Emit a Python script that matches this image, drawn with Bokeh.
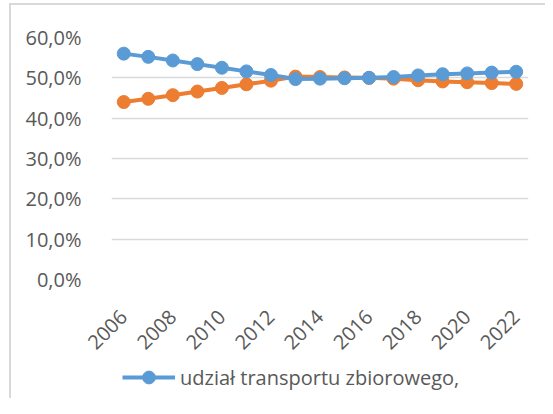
import math
from bokeh.plotting import figure
from bokeh.layouts import column
from bokeh.models import FixedTicker, CustomJSTickFormatter, Legend, LegendItem, Range1d
from bokeh.embed import file_html
from bokeh.resources import INLINE

years = list(range(2006, 2023))
zbiorowy = [56.0, 55.2, 54.3, 53.4, 52.5, 51.6, 50.7, 49.7, 49.8, 49.9, 50.0, 50.2, 50.6, 50.9, 51.1, 51.3, 51.5]
indywidualny = [44.0, 44.8, 45.7, 46.6, 47.5, 48.4, 49.3, 50.3, 50.2, 50.1, 50.0, 49.8, 49.4, 49.1, 48.9, 48.7, 48.5]
y_ticks = [0, 10, 20, 30, 40, 50, 60]
x_ticks = [2006, 2008, 2010, 2012, 2014, 2016, 2018, 2020, 2022]
legend_text = "udział transportu zbiorowego,"

BLUE = "#5B9BD5"
ORANGE = "#ED7D31"
GRID = "#D9D9D9"
TEXT = "#595959"
FONT = "Open Sans"
FS = "20px"

W = 534
p = figure(width=W, height=353, output_backend="svg", toolbar_location=None,
           x_range=Range1d(2005.5, 2022.5), y_range=Range1d(0, 60),
           min_border_left=100, min_border_right=17, min_border_top=32, min_border_bottom=77)
p.outline_line_color = None
p.background_fill_color = "white"
p.border_fill_color = "white"

p.xgrid.visible = False
p.ygrid.grid_line_color = GRID
p.ygrid.grid_line_width = 1.5
p.yaxis.ticker = FixedTicker(ticks=y_ticks)
p.xaxis.ticker = FixedTicker(ticks=x_ticks)
p.yaxis.formatter = CustomJSTickFormatter(code="return tick.toFixed(1).replace('.', ',') + '%';")
for ax in (p.xaxis, p.yaxis):
    ax.axis_line_color = None
    ax.major_tick_line_color = None
    ax.minor_tick_line_color = None
    ax.major_label_text_color = TEXT
    ax.major_label_text_font = FONT
    ax.major_label_text_font_size = FS
p.yaxis.major_label_standoff = 24
p.xaxis.major_label_orientation = math.pi / 4
p.xaxis.major_label_standoff = 28

l1 = p.line(years, indywidualny, line_color=ORANGE, line_width=4)
s1 = p.scatter(years, indywidualny, size=13, fill_color=ORANGE, line_color=ORANGE)
l2 = p.line(years, zbiorowy, line_color=BLUE, line_width=4)
s2 = p.scatter(years, zbiorowy, size=13, fill_color=BLUE, line_color=BLUE)

# legend strip below the chart (its sample renderers reuse the series, out of view)
q = figure(width=W, height=40, output_backend="svg", toolbar_location=None,
           x_range=Range1d(0, 1), y_range=Range1d(0, 1),
           min_border=0, min_border_left=0, min_border_right=0, min_border_top=0, min_border_bottom=0)
q.xaxis.visible = False
q.yaxis.visible = False
q.xgrid.visible = False
q.ygrid.visible = False
q.outline_line_color = None
q.background_fill_color = "white"
q.border_fill_color = "white"
ql = q.line(years[:2], zbiorowy[:2], line_color=BLUE, line_width=4)
qs = q.scatter(years[:2], zbiorowy[:2], size=13, fill_color=BLUE, line_color=BLUE)
legend = Legend(items=[LegendItem(label=legend_text, renderers=[ql, qs])],
                location=(11, 5), orientation="horizontal",
                padding=0, margin=0, border_line_color=None, background_fill_alpha=0,
                glyph_width=53, glyph_height=32, label_standoff=5,
                label_text_font=FONT, label_text_font_size=FS, label_text_color=TEXT)
q.add_layout(legend, "center")

layout = column(p, q, spacing=0)
layout.styles = {"margin-left": "9px", "margin-top": "3px",
                 "border-left": "2px solid #D9D9D9", "border-top": "2px solid #D9D9D9"}
open("out.html", "w").write(file_html(layout, INLINE))
